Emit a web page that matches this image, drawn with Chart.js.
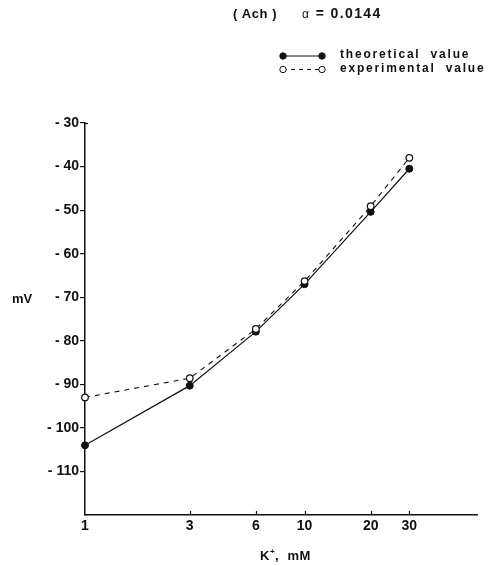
<!DOCTYPE html>
<html>
<head>
<meta charset="utf-8">
<script src="https://cdn.jsdelivr.net/npm/chart.js@4.4.1/dist/chart.umd.min.js"></script>
<style>
  html, body { margin: 0; padding: 0; background: #fff; }
  #wrap { position: relative; width: 499px; height: 566px; }
  canvas { position: absolute; left: 0; top: 0; }
  .txt { position: absolute; font-family: "Liberation Sans", Arial, sans-serif; font-weight: bold; color: #111; white-space: nowrap; }
  #title1 { left: 233px; top: 6px; font-size: 13px; letter-spacing: 0.6px; }
  #title2 { left: 302px; top: 5px; font-size: 14px; letter-spacing: 1.4px; }
  #title2 span { font-weight: normal; font-size: 12px; }
  .leg { left: 340px; font-size: 12px; letter-spacing: 1.8px; word-spacing: 5px; }
  #leg1 { top: 47px; }
  #leg2 { top: 61px; }
  #ylab { left: 12px; top: 291px; font-size: 13px; }
  #xlab { left: 260px; top: 547px; font-size: 13px; letter-spacing: 0.5px; }
  #xlab sup { font-size: 8px; vertical-align: 6px; }
</style>
</head>
<body>
<div id="wrap">
  <canvas id="chart" width="499" height="566"></canvas>
  <div class="txt" id="title1">( Ach )</div>
  <div class="txt" id="title2"><span>α</span> = 0.0144</div>
  <div class="txt leg" id="leg1">theoretical value</div>
  <div class="txt leg" id="leg2">experimental value</div>
  <div class="txt" id="ylab">mV</div>
  <div class="txt" id="xlab">K<sup>+</sup>,&nbsp; mM</div>
</div>
<script>
// --- Data ---
const potassium = [1, 3, 6, 10, 20, 30];            // K+, mM
const theoretical = [-104, -90.3, -77.9, -67, -50.4, -40.5];
const experimental = [-93, -88.6, -77.3, -66.3, -49.1, -38];
const xTicks = [1, 3, 6, 10, 20, 30];
const yTicks = [-30, -40, -50, -60, -70, -80, -90, -100, -110];

const FONT = { family: '"Liberation Sans", Arial, sans-serif', weight: 'bold', size: 14 };

// inward x ticks + legend symbols
const extras = {
  id: 'extras',
  afterDraw(chart) {
    const ctx = chart.ctx;
    const x = chart.scales.x;
    const bottom = chart.chartArea.bottom;
    ctx.save();
    ctx.strokeStyle = '#111';
    ctx.lineWidth = 1.2;
    xTicks.slice(1).forEach(v => {
      const px = Math.round(x.getPixelForValue(v)) + 0.5;
      ctx.beginPath();
      ctx.moveTo(px, bottom);
      ctx.lineTo(px, bottom - 4);
      ctx.stroke();
    });
    // small cap at top of y axis
    const top = chart.chartArea.top;
    const left = chart.chartArea.left;
    ctx.beginPath();
    ctx.moveTo(left, top + 0.5);
    ctx.lineTo(left + 3, top + 0.5);
    ctx.stroke();

    // legend symbols
    const drawSym = (y, filled, dash) => {
      ctx.setLineDash(dash);
      ctx.lineWidth = 1;
      ctx.beginPath();
      ctx.moveTo(283, y);
      ctx.lineTo(322, y);
      ctx.stroke();
      ctx.setLineDash([]);
      [283, 322].forEach(cx => {
        ctx.beginPath();
        ctx.arc(cx, y, 3.2, 0, Math.PI * 2);
        ctx.fillStyle = filled ? '#111' : '#fff';
        ctx.fill();
        ctx.stroke();
      });
    };
    drawSym(56, true, []);
    drawSym(69.5, false, [4, 4]);
    ctx.restore();
  }
};

new Chart(document.getElementById('chart'), {
  type: 'line',
  data: {
    datasets: [
      {
        label: 'experimental value',
        data: potassium.map((k, i) => ({ x: k, y: experimental[i] })),
        borderColor: '#111', borderWidth: 1.1, borderDash: [5, 5],
        pointRadius: 3.3, pointBackgroundColor: '#fff', pointBorderColor: '#111', pointBorderWidth: 1.2,
        fill: false, tension: 0, clip: false
      },
      {
        label: 'theoretical value',
        data: potassium.map((k, i) => ({ x: k, y: theoretical[i] })),
        borderColor: '#111', borderWidth: 1.2,
        pointRadius: 3.5, pointBackgroundColor: '#111', pointBorderColor: '#111', pointBorderWidth: 1,
        fill: false, tension: 0, clip: false
      }
    ]
  },
  options: {
    responsive: false,
    animation: false,
    layout: { padding: { top: 123, right: 22, left: 0, bottom: 0 } },
    plugins: { legend: { display: false }, tooltip: { enabled: false } },
    scales: {
      x: {
        type: 'logarithmic',
        min: 1, max: 61,
        afterBuildTicks: s => { s.ticks = xTicks.map(v => ({ value: v })); },
        afterFit: s => { s.height = 51; },
        border: { color: '#111', width: 1.5 },
        grid: { display: false, drawTicks: false },
        ticks: { color: '#111', font: FONT, padding: 3, callback: v => String(v), autoSkip: false, maxRotation: 0 }
      },
      y: {
        min: -120, max: -30,
        afterBuildTicks: s => { s.ticks = yTicks.map(v => ({ value: v })); },
        afterFit: s => { s.width = 85; },
        border: { color: '#111', width: 1.5 },
        grid: { drawOnChartArea: false, drawTicks: true, tickLength: 5, color: '#111', lineWidth: 1.2 },
        ticks: { color: '#111', font: FONT, padding: 1, callback: v => '- ' + Math.abs(v) }
      }
    }
  },
  plugins: [extras]
});
</script>
</body>
</html>
